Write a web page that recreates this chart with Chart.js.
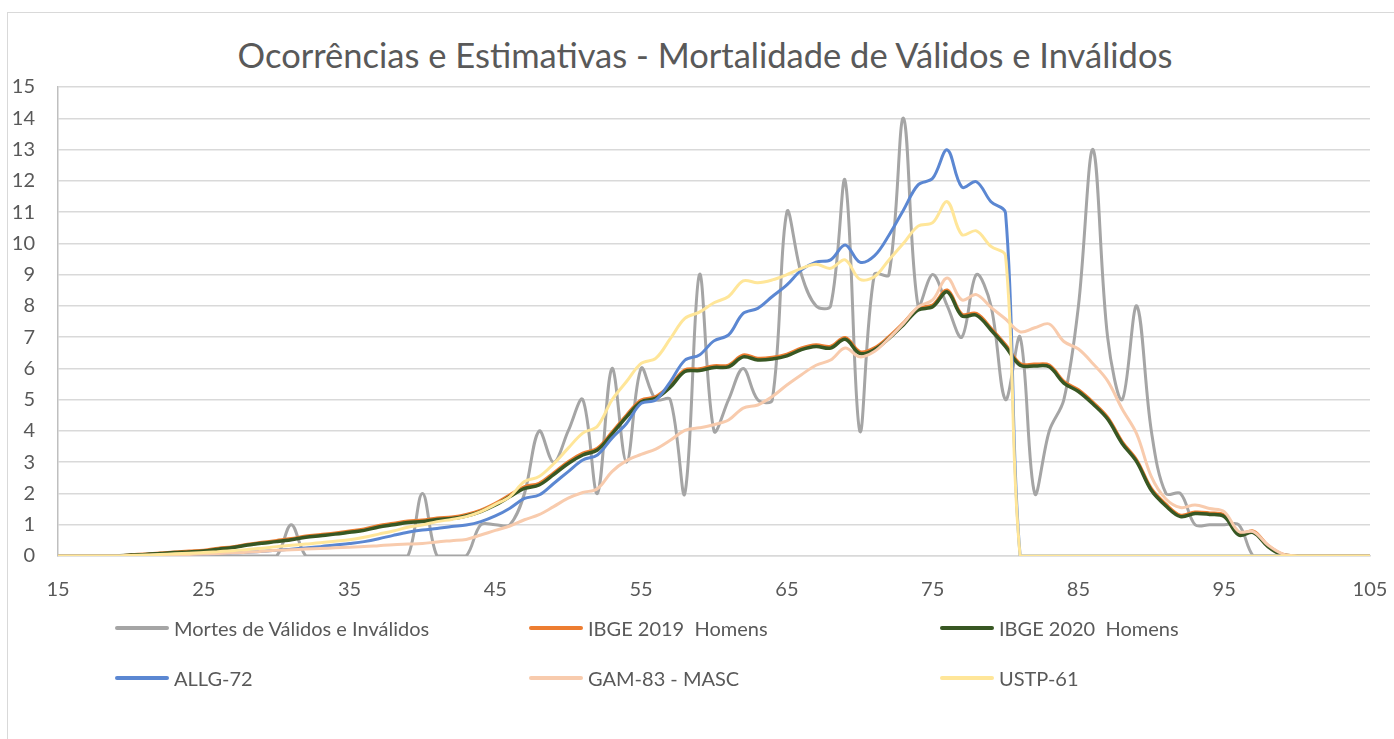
<!DOCTYPE html>
<html>
<head>
<meta charset="utf-8">
<script src="https://cdn.jsdelivr.net/npm/chart.js@4.4.1/dist/chart.umd.min.js"></script>
<style>
  html, body { margin: 0; padding: 0; background: #fff; }
  #wrap { position: relative; width: 1394px; height: 739px; overflow: hidden; font-family: Lato, "Open Sans", sans-serif; }
  #frame { position: absolute; left: 7px; top: 12px; width: 1500px; height: 800px; border-left: 1.5px solid #d9d9d9; border-top: 1.5px solid #d9d9d9; }
  #title { position: absolute; left: 0; top: 38px; width: 1410px; text-align: center; font-size: 34.5px; line-height: 34.5px; color: #595959; white-space: nowrap; }
  canvas { position: absolute; left: 0; top: 0; }
  .item { position: absolute; height: 24px; display: flex; align-items: center; font-size: 20px; color: #595959; white-space: pre; }
  .swatch { width: 54px; height: 4px; border-radius: 2px; margin-right: 5px; }
</style>
</head>
<body>
<div id="wrap">
  <div id="frame"></div>
  <div id="title">Ocorrências e Estimativas - Mortalidade de Válidos e Inválidos</div>
  <canvas id="chart" width="1394" height="739"></canvas>
  <div id="legend"></div>
</div>
<script>
// idades (eixo x)
const ages = [15,16,17,18,19,20,21,22,23,24,25,26,27,28,29,30,31,32,33,34,35,36,37,38,39,40,
  41,42,43,44,45,46,47,48,49,50,51,52,53,54,55,56,57,58,59,60,61,62,63,64,65,66,67,68,69,70,
  71,72,73,74,75,76,77,78,79,80,81,82,83,84,85,86,87,88,89,90,91,92,93,94,95,96,97,98,99,100,
  101,102,103,104,105];

const mortes = [0,0,0,0,0,0,0,0,0,0,0,0,0,0,0,0,1,0,0,0,0,0,0,0,0,2,
  0,0,0,1,1,1,2,4,3,4,5,2,6,3,6,5,5,2,9,4,5,6,5,5,11,9,8,8,12,4,
  9,9,14,8,9,8,7,9,8,5,7,2,4,5,8,13,7,5,8,4,2,2,1,1,1,1,0,0,0,0,
  0,0,0,0,0];

const ibge2019 = [0,0,0,0,0,0.03,0.06,0.09,0.12,0.15,0.18,0.24,0.29,0.37,0.43,0.49,0.55,0.63,0.68,0.73,0.79,0.86,0.97,1.04,1.11,1.14,
  1.21,1.24,1.32,1.46,1.68,1.95,2.21,2.32,2.65,3.01,3.28,3.44,3.95,4.5,4.98,5.09,5.45,5.95,5.98,6.08,6.1,6.42,6.32,6.35,6.45,6.65,6.75,6.7,6.98,6.53,
  6.65,7.01,7.45,7.92,8.02,8.5,7.73,7.75,7.28,6.75,6.15,6.13,6.1,5.58,5.31,4.91,4.43,3.65,3.06,2.15,1.65,1.3,1.4,1.37,1.3,0.71,0.79,0.33,0.05,0,
  0,0,0,0,0];

const ibge2020 = [0,0,0,0,0,0.03,0.05,0.08,0.11,0.13,0.16,0.22,0.27,0.35,0.41,0.46,0.52,0.6,0.65,0.7,0.76,0.82,0.93,1.0,1.07,1.1,
  1.17,1.2,1.28,1.42,1.63,1.9,2.16,2.27,2.6,2.96,3.23,3.39,3.9,4.45,4.93,5.04,5.4,5.9,5.93,6.03,6.05,6.37,6.27,6.3,6.4,6.6,6.7,6.65,6.93,6.48,
  6.6,6.96,7.4,7.87,7.97,8.45,7.68,7.7,7.23,6.7,6.1,6.08,6.05,5.53,5.26,4.86,4.38,3.6,3.01,2.1,1.6,1.26,1.36,1.33,1.26,0.67,0.75,0.3,0.03,0,
  0,0,0,0,0];

const allg72 = [0,0,0,0,0,0.01,0.02,0.03,0.04,0.05,0.06,0.08,0.1,0.12,0.15,0.18,0.22,0.26,0.3,0.35,0.4,0.46,0.55,0.66,0.76,0.83,
  0.88,0.94,0.99,1.1,1.28,1.53,1.84,1.95,2.32,2.7,3.07,3.23,3.77,4.24,4.88,4.99,5.57,6.26,6.43,6.88,7.07,7.76,7.92,8.3,8.67,9.15,9.4,9.47,9.95,9.4,
  9.6,10.26,11.07,11.87,12.08,12.99,11.8,11.97,11.33,10.97,0,0,0,0,0,0,0,0,0,0,0,0,0,0,0,0,0,0,0,0,
  0,0,0,0,0];

const gam83 = [0,0,0,0,0,0.01,0.02,0.03,0.04,0.05,0.06,0.08,0.1,0.12,0.15,0.18,0.2,0.22,0.24,0.26,0.28,0.3,0.33,0.36,0.38,0.4,
  0.45,0.49,0.53,0.67,0.82,0.96,1.16,1.32,1.58,1.85,2.03,2.15,2.7,3.05,3.25,3.42,3.7,4.02,4.1,4.2,4.35,4.73,4.83,5.1,5.47,5.8,6.1,6.27,6.65,6.37,
  6.54,6.96,7.44,7.97,8.19,8.89,8.19,8.36,7.95,7.58,7.17,7.3,7.42,6.86,6.62,6.15,5.6,4.7,3.9,2.54,1.82,1.55,1.63,1.52,1.42,0.78,0.78,0.35,0.07,0,
  0,0,0,0,0];

const ustp61 = [0,0,0,0,0,0.02,0.03,0.05,0.07,0.09,0.11,0.14,0.17,0.21,0.25,0.3,0.34,0.38,0.42,0.47,0.52,0.6,0.7,0.8,0.92,0.99,
  1.1,1.17,1.26,1.42,1.65,1.9,2.38,2.54,2.95,3.45,3.93,4.15,4.99,5.58,6.16,6.32,6.95,7.6,7.8,8.1,8.3,8.8,8.74,8.83,9.0,9.2,9.33,9.2,9.47,8.85,
  8.93,9.47,10.0,10.55,10.66,11.33,10.28,10.4,9.9,9.6,0,0,0,0,0,0,0,0,0,0,0,0,0,0,0,0,0,0,0,0,
  0,0,0,0,0];

const seriesNames = ['Mortes de Válidos e Inválidos', 'IBGE 2019  Homens', 'IBGE 2020  Homens', 'ALLG-72', 'GAM-83 - MASC', 'USTP-61'];
const seriesData = [mortes, ibge2019, ibge2020, allg72, gam83, ustp61];
const seriesColors = ['#a5a5a5', '#ed7d31', '#385723', '#5b87d2', '#f8cbad', '#ffe699'];
const seriesWidths = [3, 3.5, 3.5, 3, 3, 3];

const xTicks = [15, 25, 35, 45, 55, 65, 75, 85, 95, 105];

const datasets = seriesData.map(function(values, i) {
  return {
    label: seriesNames[i],
    data: values.map(function(v, j) { return { x: ages[j], y: v }; }),
    borderColor: seriesColors[i],
    backgroundColor: seriesColors[i],
    borderWidth: seriesWidths[i],
    pointRadius: 0,
    tension: 0.35,
    fill: false,
    borderJoinStyle: 'round',
    borderCapStyle: 'round',
    order: seriesData.length - 1 - i   // later series on top, like Excel
  };
});

const tickFont = { family: 'Lato', size: 20 };

new Chart(document.getElementById('chart'), {
  type: 'line',
  data: { datasets: datasets },
  options: {
    responsive: false,
    animation: false,
    layout: { padding: { top: 87, right: 24, left: 0, bottom: 0 } },
    plugins: { legend: { display: false }, title: { display: false }, tooltip: { enabled: false } },
    scales: {
      x: {
        type: 'linear',
        min: 15,
        max: 105,
        afterBuildTicks: function(scale) { scale.ticks = xTicks.map(function(v) { return { value: v }; }); },
        ticks: { font: tickFont, color: '#595959', padding: 14, maxRotation: 0 },
        grid: { display: false },
        border: { display: true, color: '#d9d9d9', width: 1.5 },
        afterFit: function(scale) {
          scale.height = 183;
          scale.paddingLeft = 0;
          scale.paddingRight = 0;
        }
      },
      y: {
        min: 0,
        max: 15,
        ticks: { stepSize: 1, font: tickFont, color: '#595959', padding: 23 },
        grid: { color: '#d9d9d9', lineWidth: 1.5, drawTicks: false },
        border: { display: true, color: '#bfbfbf', width: 1.5 },
        afterFit: function(scale) { scale.width = 58; }
      }
    }
  }
});

// legenda em 3 colunas, como no original
const legend = document.getElementById('legend');
const legendCols = [115, 529, 940];
const legendRows = [628, 678];
seriesNames.forEach(function(name, i) {
  const item = document.createElement('div');
  item.className = 'item';
  item.style.left = legendCols[i % 3] + 'px';
  item.style.top = (legendRows[Math.floor(i / 3)] - 12) + 'px';
  item.innerHTML = '<div class="swatch" style="background:' + seriesColors[i] + '"></div><span>' + name + '</span>';
  legend.appendChild(item);
});
</script>
</body>
</html>
